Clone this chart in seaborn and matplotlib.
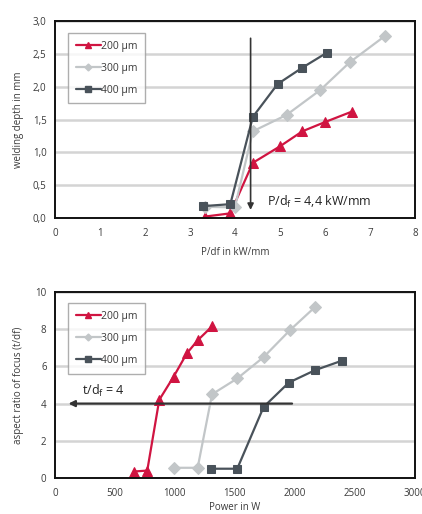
import matplotlib
matplotlib.use("Agg")
import matplotlib.pyplot as plt
from matplotlib.lines import Line2D
import seaborn as sns
import pandas as pd

sns.set_theme(style="white")
plt.rcParams["font.family"] = ["Open Sans", "DejaVu Sans"]

series = ["200 µm", "300 µm", "400 µm"]
colors = {"200 µm": "#D01441", "300 µm": "#C2C6C8", "400 µm": "#49525A"}
markers = {"200 µm": "^", "300 µm": "D", "400 µm": "s"}

# Welding depth vs. specific power P/df
pdf_200 = [3.33, 3.9, 4.4, 5.0, 5.5, 6.0, 6.6]
depth_200 = [0.02, 0.07, 0.84, 1.09, 1.32, 1.46, 1.62]
pdf_300 = [3.33, 4.0, 4.4, 5.15, 5.9, 6.55, 7.33]
depth_300 = [0.17, 0.16, 1.32, 1.57, 1.95, 2.37, 2.77]
pdf_400 = [3.3, 3.9, 4.4, 4.95, 5.5, 6.05]
depth_400 = [0.18, 0.21, 1.54, 2.04, 2.29, 2.52]

# Aspect ratio vs. laser power
power_200 = [660, 770, 870, 990, 1100, 1190, 1310]
ratio_200 = [0.35, 0.4, 4.2, 5.45, 6.7, 7.4, 8.15]
power_300 = [990, 1190, 1310, 1520, 1740, 1960, 2170]
ratio_300 = [0.55, 0.55, 4.5, 5.35, 6.5, 7.95, 9.2]
power_400 = [1300, 1520, 1740, 1950, 2170, 2390]
ratio_400 = [0.5, 0.5, 3.82, 5.13, 5.8, 6.3]

top = pd.concat([
    pd.DataFrame({"x": pdf_200, "y": depth_200, "d": series[0]}),
    pd.DataFrame({"x": pdf_300, "y": depth_300, "d": series[1]}),
    pd.DataFrame({"x": pdf_400, "y": depth_400, "d": series[2]}),
])
bottom = pd.concat([
    pd.DataFrame({"x": power_200, "y": ratio_200, "d": series[0]}),
    pd.DataFrame({"x": power_300, "y": ratio_300, "d": series[1]}),
    pd.DataFrame({"x": power_400, "y": ratio_400, "d": series[2]}),
])

text_c = "#3a3a3a"
fig = plt.figure(figsize=(4.22, 5.14), dpi=100)
ax1 = fig.add_axes([0.130, 0.576, 0.853, 0.383])
ax2 = fig.add_axes([0.130, 0.070, 0.853, 0.362])

msize = {"200 µm": 7, "300 µm": 6, "400 µm": 6}
leg_msize = {"200 µm": 5, "300 µm": 3.5, "400 µm": 4.5}


def draw(ax, df):
    for name in series:
        sub = df[df["d"] == name]
        sns.lineplot(data=sub, x="x", y="y", ax=ax, color=colors[name],
                     marker=markers[name], markersize=msize[name],
                     markeredgecolor=colors[name], linewidth=1.6,
                     sort=False, estimator=None, legend=False)
    ax.set_xlabel("")
    ax.set_ylabel("")
    for s in ax.spines.values():
        s.set_color("#111111")
        s.set_linewidth(1.4)
    ax.grid(axis="y", color="#d4d4d4", linewidth=1.8)
    ax.set_axisbelow(True)
    ax.tick_params(axis="both", labelsize=7, colors=text_c, length=2.5,
                   direction="in", width=1.2)
    ax.tick_params(axis="x", pad=7)
    ax.tick_params(axis="y", length=0, pad=6)
    handles = [Line2D([], [], color=colors[n], marker=markers[n],
                      markersize=leg_msize[n], markeredgecolor=colors[n],
                      linewidth=1.6) for n in series]
    leg = ax.legend(handles, series, loc="upper left",
                    bbox_to_anchor=(0.036, 0.94),
                    fontsize=7.5, frameon=True, fancybox=False,
                    handlelength=2.4, handletextpad=0.05, borderpad=0.75,
                    labelspacing=1.05, borderaxespad=0)
    leg.get_frame().set_edgecolor("#9a9a9a")
    leg.get_frame().set_linewidth(1.0)
    for t in leg.get_texts():
        t.set_color(text_c)


draw(ax1, top)
ax1.set_xlim(0, 8)
ax1.set_ylim(0, 3)
ax1.set_xticks(range(0, 9))
ax1.set_yticks([0, 0.5, 1.0, 1.5, 2.0, 2.5, 3.0])
ax1.set_yticklabels([f"{v:.1f}".replace(".", ",") for v in [0, 0.5, 1.0, 1.5, 2.0, 2.5, 3.0]])
ax1.set_xlabel("P/df in kW/mm", fontsize=7, color=text_c, labelpad=6)
ax1.set_ylabel("welding depth in mm", fontsize=7, color=text_c, labelpad=6)
ax1.annotate("", xy=(4.35, 0.08), xytext=(4.35, 2.78),
             arrowprops=dict(arrowstyle="-|>", color="#333333", lw=1.2,
                             mutation_scale=9))
ax1.text(4.72, 0.24, "P/d$_\\mathregular{f}$ = 4,4 kW/mm", fontsize=9,
         color="#222222", va="center", ha="left")

draw(ax2, bottom)
ax2.set_xlim(0, 3000)
ax2.set_ylim(0, 10)
ax2.set_xticks(range(0, 3001, 500))
ax2.set_yticks(range(0, 11, 2))
ax2.set_xlabel("Power in W", fontsize=7, color=text_c, labelpad=2)
ax2.set_ylabel("aspect ratio of focus (t/df)", fontsize=7, color=text_c, labelpad=8)
ax2.annotate("", xy=(90, 4), xytext=(2000, 4),
             arrowprops=dict(arrowstyle="-|>", color="#333333", lw=1.6,
                             mutation_scale=9))
ax2.text(230, 4.7, "t/d$_\\mathregular{f}$ = 4", fontsize=9, color="#222222",
         va="center", ha="left")

fig.savefig("out.png", dpi=100)
